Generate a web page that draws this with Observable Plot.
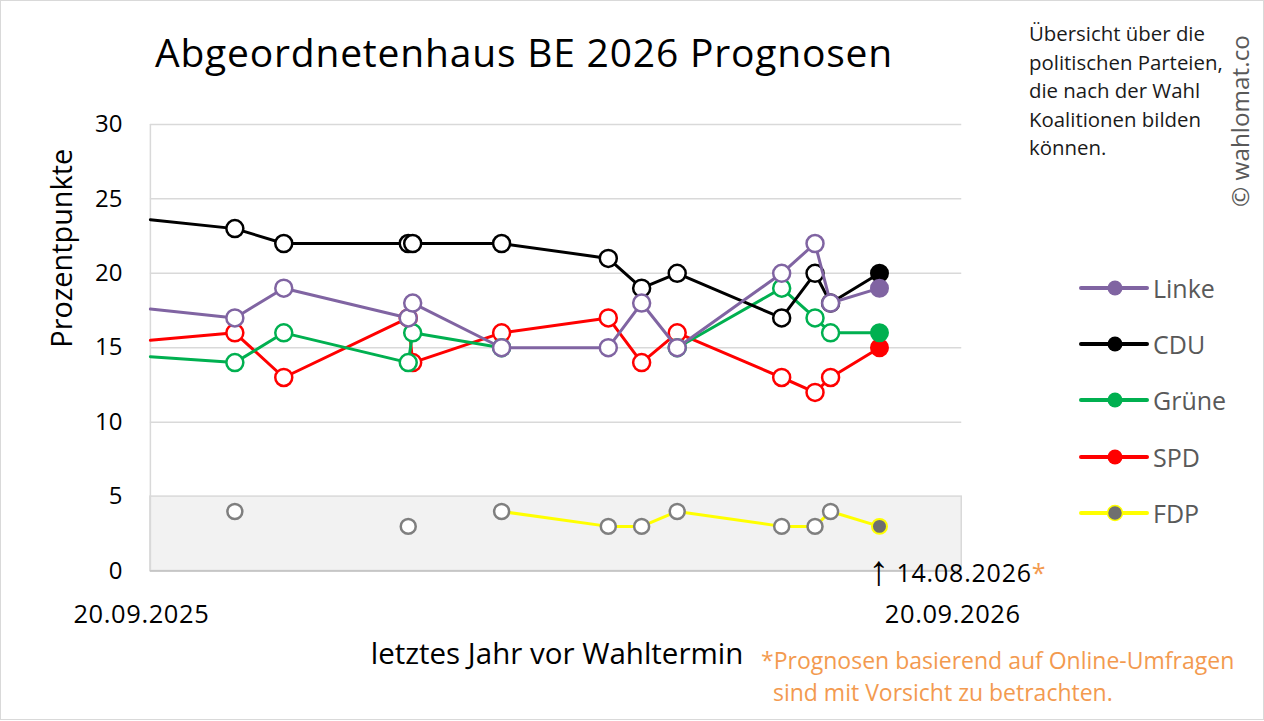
<!DOCTYPE html>
<html>
<head>
<meta charset="utf-8">
<script src="https://cdn.jsdelivr.net/npm/d3@7"></script>
<script src="https://cdn.jsdelivr.net/npm/@observablehq/plot@0.6"></script>
<style>
  html, body { margin: 0; padding: 0; background: #fff; }
  #wrap { position: relative; width: 1262px; height: 718px; border: 1px solid #d9d9d9; overflow: hidden; font-family: "Open Sans", sans-serif; }
  #chart { position: absolute; left: -1px; top: -1px; }
  .abs { position: absolute; white-space: nowrap; }
  #title { left: 154px; top: 24px; font-size: 39px; letter-spacing: 0.8px; color: #000; }
  #note { left: 1028px; top: 18px; font-size: 20.4px; line-height: 28.5px; color: #1a1a1a; white-space: normal; width: 236px; }
  #copy { left: 1238px; top: 120px; font-size: 24.3px; color: #595959; transform: translate(-50%, -50%) rotate(-90deg); }
  #xlabel { left: 556px; top: 630.5px; font-size: 29.5px; color: #000; transform: translateX(-50%); }
  #foot { left: 760px; top: 643px; font-size: 23px; line-height: 32px; color: #f39a4f; }
  #legend .item { position: absolute; left: 1078px; height: 30px; display: flex; align-items: center; font-size: 25px; color: #595959; }
  #legend svg { margin-right: 4px; }
  .xtick text { letter-spacing: 0.6px; }
</style>
</head>
<body>
<div id="wrap">
  <div id="chart"></div>
  <div id="title" class="abs">Abgeordnetenhaus BE 2026 Prognosen</div>
  <div id="note" class="abs">Übersicht über die<br>politischen Parteien,<br>die nach der Wahl<br>Koalitionen bilden<br>können.</div>
  <div id="copy" class="abs">© wahlomat.co</div>
  <div id="xlabel" class="abs">letztes Jahr vor Wahltermin</div>
  <div id="foot" class="abs">*Prognosen basierend auf Online-Umfragen<br>&nbsp;&nbsp;sind mit Vorsicht zu betrachten.</div>
  <div id="legend"></div>
</div>
<script>
// ---- data ----
const domainDates = ["2025-09-20", "2026-09-20"];
const pollDates = ["2025-10-28","2025-11-19","2026-01-14","2026-01-16","2026-02-25","2026-04-14","2026-04-29","2026-05-15","2026-07-01","2026-07-16","2026-07-23","2026-08-14"];
const parties = ["Linke", "CDU", "Grüne", "SPD", "FDP"];
const linke = [17, 19, 17, 18, 15, 15, 18, 15, 20, 22, 18, 19];
const cdu   = [23, 22, 22, 22, 22, 21, 19, 20, 17, 20, 18, 20];
const gruene= [14, 16, 14, 16, 15, null, null, 15, 19, 17, 16, 16];
const spd   = [16, 13, 17, 14, 16, 17, 14, 16, 13, 12, 13, 15];
const fdp   = [4, null, 3, null, 4, 3, 3, 4, 3, 3, 4, 3];
// line values at the left edge of the window (continuing from earlier polls)
const startValues = [17.6, 23.6, 14.4, 15.5, null];
const yTicks = [0, 5, 10, 15, 20, 25, 30];
const gridTicks = [10, 15, 20, 25, 30];
const thresholdBand = [0, 5];
const markDate = "2026-08-14";
const markLabel = "↑ 14.08.2026";

const lineColors = {"Linke": "#8064a2", "CDU": "#000000", "Grüne": "#00b050", "SPD": "#ff0000", "FDP": "#ffff00"};
const dotStroke = {"Linke": "#8064a2", "CDU": "#000000", "Grüne": "#00b050", "SPD": "#ff0000", "FDP": "#7f7f7f"};
const lastFill = {"Linke": "#8064a2", "CDU": "#000000", "Grüne": "#00b050", "SPD": "#ff0000", "FDP": "#6f6f6f"};
const lastStroke = {"Linke": "#8064a2", "CDU": "#000000", "Grüne": "#00b050", "SPD": "#ff0000", "FDP": "#ffff00"};

const series = [linke, cdu, gruene, spd, fdp];
const parse = d3.utcParse("%Y-%m-%d");
const rows = [];
parties.forEach((p, k) => {
  rows.push({party: p, date: parse(domainDates[0]), value: startValues[k], start: true, last: false});
  pollDates.forEach((d, i) => {
    rows.push({party: p, date: parse(d), value: series[k][i], start: false, last: i === pollDates.length - 1});
  });
});

const drawOrder = ["FDP", "SPD", "Grüne", "CDU", "Linke"];
const partyMarks = drawOrder.flatMap(p => {
  const r = rows.filter(d => d.party === p);
  const dots = r.filter(d => !d.start && d.value != null && !d.last);
  const last = r.filter(d => d.last);
  const rad = p === "FDP" ? 7.5 : 8.5;
  return [
    Plot.line(r, {x: "date", y: "value", stroke: lineColors[p], strokeWidth: 3}),
    Plot.dot(dots, {x: "date", y: "value", r: rad, fill: "white", stroke: dotStroke[p], strokeWidth: 2.5}),
    Plot.dot(last, {x: "date", y: "value", r: rad, fill: lastFill[p], stroke: lastStroke[p], strokeWidth: 2})
  ];
});

const xDomain = domainDates.map(parse);
const fmt = d3.utcFormat("%d.%m.%Y");

const plot = Plot.plot({
  width: 1264,
  height: 721,
  marginLeft: 150,
  marginRight: 302,
  marginTop: 124,
  marginBottom: 150,
  style: {fontFamily: "'Open Sans', sans-serif", background: "transparent", overflow: "visible"},
  x: {type: "utc", domain: xDomain},
  y: {domain: [0, 30]},
  marks: [
    Plot.rect([thresholdBand], {x1: () => xDomain[0], x2: () => xDomain[1], y1: d => d[0], y2: d => d[1], fill: "#f2f2f2", stroke: "#d9d9d9", strokeWidth: 1.5}),
    Plot.ruleY(gridTicks, {stroke: "#d9d9d9", strokeWidth: 1.5}),
    Plot.ruleX([xDomain[0]], {y1: 0, y2: 30, stroke: "#d9d9d9", strokeWidth: 1.5}),
    Plot.ruleY([0], {stroke: "#bfbfbf", strokeWidth: 1.5}),
    Plot.axisY({ticks: yTicks, tickSize: 0, tickPadding: 28, fontSize: 24, label: null, tickFormat: d => d}),
    Plot.axisX({ticks: xDomain, tickSize: 0, tickPadding: 34, fontSize: 25.5, label: null, tickFormat: fmt, dx: -9, className: "xtick"}),
    Plot.text(["Prozentpunkte"], {frameAnchor: "left", rotate: -90, dx: -88, fontSize: 28.9, fill: "#000"}),
    ...partyMarks,
    Plot.text([{date: parse(markDate), v: 0}], {x: "date", y: "v", text: () => markLabel, textAnchor: "start", dx: -11, dy: 3, fontSize: 25, fill: "#000", className: "marklabel"})
  ]
});
document.getElementById("chart").appendChild(plot);

// split the date annotation: tall thin arrow glyph, date, orange asterisk
d3.select(plot).selectAll("g.marklabel text").each(function() {
  const t = d3.select(this);
  const s = t.text();
  t.text(null);
  t.append("tspan").attr("font-family", "'Liberation Sans', sans-serif").attr("font-size", 42).attr("dy", 3).text(s.slice(0, 1));
  t.append("tspan").attr("dx", 7).attr("dy", -3).attr("letter-spacing", "0.8px").text(s.slice(2));
  t.append("tspan").attr("fill", "#f39a4f").text("*");
});
d3.select(plot).selectAll("g[aria-label='y-axis tick label'] text, g[aria-label='x-axis tick label'] text").attr("fill", "#000");

// legend
const legend = document.getElementById("legend");
const legendTops = [272, 328, 384, 441, 497];
parties.forEach((p, i) => {
  const item = document.createElement("div");
  item.className = "item";
  item.style.top = legendTops[i] + "px";
  item.innerHTML = `<svg width="70" height="20"><line x1="2" y1="10" x2="68" y2="10" stroke="${lineColors[p]}" stroke-width="4" stroke-linecap="round"/><circle cx="36" cy="10" r="7.5" fill="${lastFill[p]}" stroke="${lastStroke[p]}" stroke-width="${p === 'FDP' ? 1.5 : 0}"/></svg><span>${p}</span>`;
  legend.appendChild(item);
});
</script>
</body>
</html>
